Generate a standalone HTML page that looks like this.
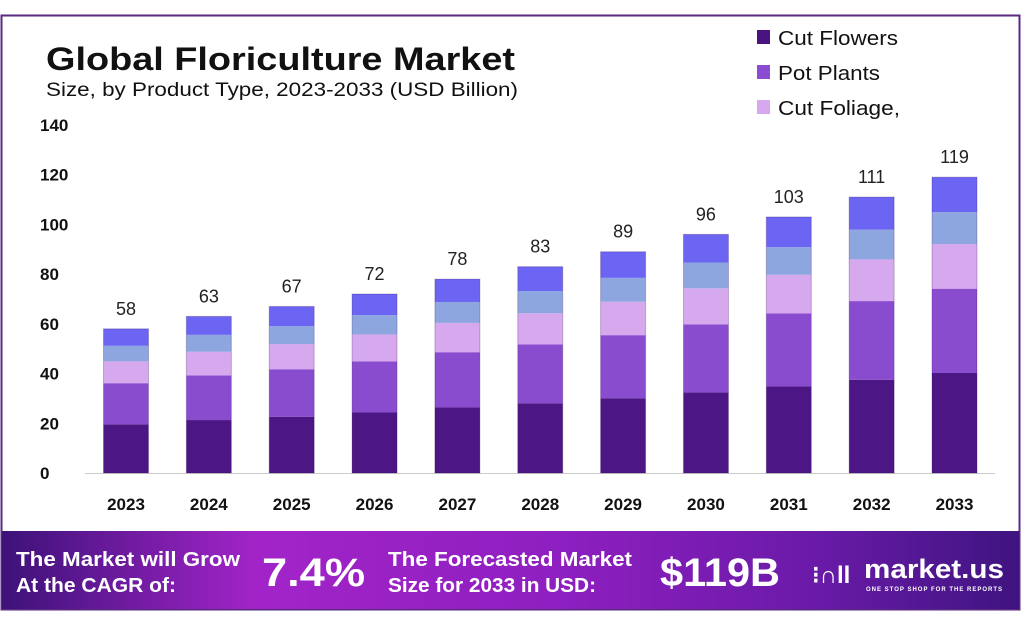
<!DOCTYPE html>
<html><head><meta charset="utf-8"><style>
body{margin:0;width:1024px;height:621px;overflow:hidden;background:#fff;font-family:"Liberation Sans",sans-serif}
</style></head><body>
<svg id="s" width="1024" height="621" xmlns="http://www.w3.org/2000/svg">
<defs>
<linearGradient id="bg" x1="0" x2="1" y1="0" y2="0">
<stop offset="0" stop-color="#3d1278"/><stop offset="0.25" stop-color="#a224c8"/><stop offset="0.55" stop-color="#8e1fc0"/><stop offset="0.8" stop-color="#6a1aa8"/><stop offset="1" stop-color="#3f1480"/>
</linearGradient>
</defs>
<rect x="0" y="0" width="1024" height="621" fill="#fff"/>
<rect x="1.5" y="15.5" width="1018" height="594" fill="#fff" stroke="#5a2a82" stroke-width="2"/>
<text x="46" y="70" font-size="32" font-weight="bold" fill="#111" textLength="469" lengthAdjust="spacingAndGlyphs">Global Floriculture Market</text>
<text x="46" y="96" font-size="19" fill="#111" textLength="472" lengthAdjust="spacingAndGlyphs">Size, by Product Type, 2023-2033 (USD Billion)</text>
<rect x="757" y="30" width="13" height="14" fill="#4a1480"/>
<text x="778" y="45" font-size="20" fill="#111" textLength="120" lengthAdjust="spacingAndGlyphs">Cut Flowers</text>
<rect x="757" y="65" width="13" height="14" fill="#8a4cd0"/>
<text x="778" y="80" font-size="20" fill="#111" textLength="102" lengthAdjust="spacingAndGlyphs">Pot Plants</text>
<rect x="757" y="100" width="13" height="14" fill="#d6a8f0"/>
<text x="778" y="115" font-size="20" fill="#111" textLength="122" lengthAdjust="spacingAndGlyphs">Cut Foliage,</text>
<g id="ax" font-size="17" font-weight="bold" fill="#111"></g>
<line x1="85" y1="473.5" x2="995" y2="473.5" stroke="#ccc" stroke-width="1"/>
<g id="bars"></g>
<rect x="2" y="531" width="1017" height="78" fill="url(#bg)"/>
<g fill="#fff" font-weight="bold">
<text x="16" y="566" font-size="20" textLength="224" lengthAdjust="spacingAndGlyphs">The Market will Grow</text>
<text x="16" y="592" font-size="20" textLength="160" lengthAdjust="spacingAndGlyphs">At the CAGR of:</text>
<text x="262" y="586" font-size="40" textLength="103" lengthAdjust="spacingAndGlyphs">7.4%</text>
<text x="388" y="566" font-size="20" textLength="244" lengthAdjust="spacingAndGlyphs">The Forecasted Market</text>
<text x="388" y="592" font-size="20" textLength="208" lengthAdjust="spacingAndGlyphs">Size for 2033 in USD:</text>
<text x="660" y="586" font-size="40" textLength="120" lengthAdjust="spacingAndGlyphs">$119B</text>
<text x="812" y="583" font-size="24">⁝∩ll</text>
<text x="864" y="578" font-size="27" textLength="140" lengthAdjust="spacingAndGlyphs">market.us</text>
<text x="866" y="591" font-size="6" letter-spacing="1">ONE STOP SHOP FOR THE REPORTS</text>
</g>
</svg>
<script>
var ns="http://www.w3.org/2000/svg";
function el(p,t,a,txt){var e=document.createElementNS(ns,t);for(var k in a)e.setAttribute(k,a[k]);if(txt!=null)e.textContent=txt;p.appendChild(e);return e;}
var ax=document.getElementById("ax"),bars=document.getElementById("bars");
for(var v=0;v<=140;v+=20){el(ax,"text",{x:40,y:473-v*2.486+6},String(v));}
var T=[58,63,67,72,78,83,89,96,103,111,119];
var f=[.338,.285,.151,.108,.118];
var c=["#4c1684","#8a4ccf","#d6a8ee","#8ea6df","#6c64f2"];
for(var i=0;i<11;i++){
 var cx=126+i*82.85,x=cx-22.5,y=473,H=T[i]*2.486;
 for(var j=0;j<5;j++){var h=H*f[j];el(bars,"rect",{x:x,y:y-h,width:45,height:h,fill:c[j]});y-=h;}
 el(bars,"rect",{x:x,y:473-H,width:45,height:H,fill:"none",stroke:"rgba(40,10,80,0.25)","stroke-width":1});
 el(bars,"text",{x:cx,y:473-H-14,"font-size":18,"text-anchor":"middle",fill:"#222"},String(T[i]));
 el(bars,"text",{x:cx,y:510,"font-size":17,"font-weight":"bold","text-anchor":"middle",fill:"#111"},String(2023+i));
}
</script>
</body></html>
